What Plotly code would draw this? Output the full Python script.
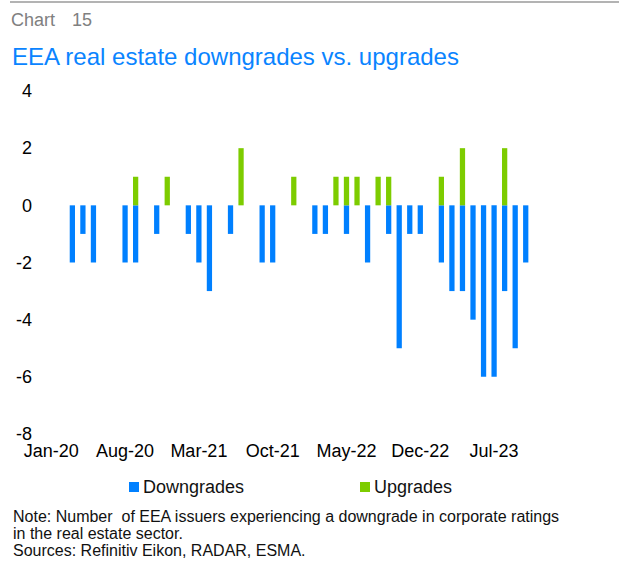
import plotly.graph_objects as go

# ---------------- data ----------------
months = [
    "Jan-20", "Feb-20", "Mar-20", "Apr-20", "May-20", "Jun-20", "Jul-20", "Aug-20", "Sep-20", "Oct-20", "Nov-20", "Dec-20",
    "Jan-21", "Feb-21", "Mar-21", "Apr-21", "May-21", "Jun-21", "Jul-21", "Aug-21", "Sep-21", "Oct-21", "Nov-21", "Dec-21",
    "Jan-22", "Feb-22", "Mar-22", "Apr-22", "May-22", "Jun-22", "Jul-22", "Aug-22", "Sep-22", "Oct-22", "Nov-22", "Dec-22",
    "Jan-23", "Feb-23", "Mar-23", "Apr-23", "May-23", "Jun-23", "Jul-23", "Aug-23", "Sep-23", "Oct-23",
]
downgrades = [
    0, 0, -2, -1, -2, 0, 0, -2, -2, 0, -1, 0,
    0, -1, -2, -3, 0, -1, 0, 0, -2, -2, 0, 0,
    0, -1, -1, 0, -1, 0, -2, 0, -1, -5, -1, -1,
    0, -2, -3, -3, -4, -6, -6, -3, -5, -2,
]
upgrades = [
    0, 0, 0, 0, 0, 0, 0, 0, 1, 0, 0, 1,
    0, 0, 0, 0, 0, 0, 2, 0, 0, 0, 0, 1,
    0, 0, 0, 1, 1, 1, 0, 1, 1, 0, 0, 0,
    0, 1, 0, 2, 0, 0, 0, 2, 0, 0,
]
tick_labels = ["Jan-20", "Aug-20", "Mar-21", "Oct-21", "May-22", "Dec-22", "Jul-23"]
y_ticks = [-8, -6, -4, -2, 0, 2, 4]

series_names = ["Downgrades", "Upgrades"]
BLUE = "#0080FF"
GREEN = "#7DCC00"
TITLE_BLUE = "#0a84ff"
FONT = "Liberation Sans, Arial, sans-serif"

# ---------------- geometry helpers ----------------
W, H = 619, 561
L, R, T, B = 46, 88, 91, 127
PW, PH = W - L - R, H - T - B


def xp(px):
    return (px - L) / PW


def yp(py):
    return (H - B - py) / PH


fig = go.Figure()
fig.add_trace(go.Bar(x=months, y=downgrades, name=series_names[0], marker_color=BLUE,
                     marker_line_width=0, showlegend=False))
fig.add_trace(go.Bar(x=months, y=upgrades, name=series_names[1], marker_color=GREEN,
                     marker_line_width=0, showlegend=False))

annotations = [
    dict(text="Chart", x=xp(10), y=yp(20), font=dict(size=18, color="#808080")),
    dict(text="15", x=xp(71), y=yp(20), font=dict(size=18, color="#808080")),
    dict(text="EEA real estate downgrades vs. upgrades", x=xp(11), y=yp(56),
         font=dict(size=24, color=TITLE_BLUE)),
    dict(text="Downgrades", x=xp(142), y=yp(487), font=dict(size=18, color="#111111")),
    dict(text="Upgrades", x=xp(373), y=yp(487), font=dict(size=18, color="#111111")),
    dict(text="Note: Number\u00a0 of EEA issuers experiencing a downgrade in corporate ratings",
         x=xp(12), y=yp(516), font=dict(size=16, color="#111111")),
    dict(text="in the real estate sector.", x=xp(12), y=yp(533), font=dict(size=16, color="#111111")),
    dict(text="Sources: Refinitiv Eikon, RADAR, ESMA.", x=xp(12), y=yp(550),
         font=dict(size=16, color="#111111")),
]
for a in annotations:
    a.update(xref="paper", yref="paper", xanchor="left", yanchor="middle", showarrow=False,
             borderpad=0)

shapes = [
    dict(type="line", xref="paper", yref="paper", x0=xp(10), x1=xp(619), y0=yp(2), y1=yp(2),
         line=dict(color="#b3b3b3", width=2), layer="above"),
    dict(type="rect", xref="paper", yref="paper", x0=xp(129), x1=xp(139), y0=yp(492), y1=yp(482),
         fillcolor=BLUE, line=dict(width=0)),
    dict(type="rect", xref="paper", yref="paper", x0=xp(360), x1=xp(370), y0=yp(492), y1=yp(482),
         fillcolor=GREEN, line=dict(width=0)),
]

fig.update_layout(
    width=W, height=H,
    margin=dict(l=L, r=R, t=T, b=B, pad=0, autoexpand=False),
    barmode="relative",
    bargap=0.5,
    plot_bgcolor="white",
    paper_bgcolor="white",
    font=dict(family=FONT, color="#000000"),
    annotations=annotations,
    shapes=shapes,
    showlegend=False,
    xaxis=dict(type="category", tickmode="array", tickvals=tick_labels, ticktext=tick_labels,
               showgrid=False, zeroline=False, showline=False, ticks="",
               tickfont=dict(size=18, family=FONT, color="#000000"), tickangle=0,
               ticklabelstandoff=4,
               range=[-0.5, len(months) - 0.5]),
    yaxis=dict(range=[-8, 4], tickmode="array", tickvals=y_ticks,
               ticktext=[str(v) for v in y_ticks],
               showgrid=False, zeroline=False, showline=False, ticks="",
               tickfont=dict(size=18, family=FONT, color="#000000"),
               ticklabelstandoff=13),
)

fig.write_html(
    "out.html",
    config={"displayModeBar": False},
    post_script="document.body.style.margin='0';document.body.style.overflow='hidden';",
)
